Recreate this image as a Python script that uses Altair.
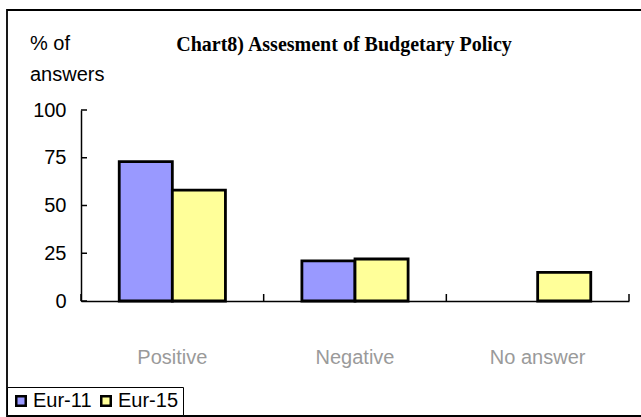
import altair as alt
import pandas as pd

categories = ["Positive", "Negative", "No answer"]
series = ["Eur-11", "Eur-15"]
eur11 = [73, 21, None]
eur15 = [58, 22, 15]
ytick_values = [0, 25, 50, 75, 100]
title_text = "Chart8) Assesment of Budgetary Policy"
ytitle_lines = ["% of", "answers"]
colors = ["#9999FF", "#FFFF99"]

rows = []
for c, a, b in zip(categories, eur11, eur15):
    if a is not None:
        rows.append({"cat": c, "series": "Eur-11", "value": a})
    if b is not None:
        rows.append({"cat": c, "series": "Eur-15", "value": b})
df = pd.DataFrame(rows)

W, H = 548, 191
FONT = "Liberation Sans"

xscale = alt.Scale(domain=categories, paddingInner=0, paddingOuter=0)
yscale = alt.Scale(domain=[0, 100], nice=False)

bars = alt.Chart(df).mark_bar(stroke="black", strokeWidth=2.8, strokeJoin="miter").encode(
    x=alt.X("cat:N", scale=xscale, sort=categories,
            axis=alt.Axis(title=None, labelAngle=0, ticks=False, domainColor="black",
                          domainWidth=1.5, labelColor="#9a9a9a", labelFont=FONT,
                          labelFontSize=20, labelPadding=56, labelBaseline="middle")),
    xOffset=alt.XOffset("series:N", scale=alt.Scale(domain=series, paddingInner=0, paddingOuter=0.72)),
    y=alt.Y("value:Q", scale=yscale,
            axis=alt.Axis(title=None, values=ytick_values, ticks=False, grid=False,
                          domainColor="black", domainWidth=1.5, labelColor="black",
                          labelFont=FONT, labelFontSize=20, labelPadding=15)),
    color=alt.Color("series:N", scale=alt.Scale(domain=series, range=colors),
                    legend=alt.Legend(title=None, orient="none", legendX=-74, legendY=277,
                                      direction="horizontal", strokeColor="black",
                                      fillColor="white", padding=4, symbolType="square",
                                      symbolSize=90, symbolStrokeColor="black",
                                      symbolStrokeWidth=2.5, labelFont=FONT,
                                      labelFontSize=20, labelColor="black",
                                      labelOffset=2, columnPadding=4)),
)

ydf = pd.DataFrame({"v": ytick_values})
yticks = alt.Chart(ydf).mark_rule(color="black", strokeWidth=1.5).encode(
    y=alt.Y("v:Q", scale=yscale), x=alt.value(0), x2=alt.value(6)
)

cdf = pd.DataFrame({"cat": categories})
xticks = alt.Chart(cdf).mark_rule(color="black", strokeWidth=1.5).encode(
    x=alt.X("cat:N", scale=xscale, sort=categories, bandPosition=0),
    y=alt.value(H), y2=alt.value(H - 7),
)
xtick_end = alt.Chart(cdf.head(1)).mark_rule(color="black", strokeWidth=1.5).encode(
    x=alt.value(W), y=alt.value(H), y2=alt.value(H - 7)
)

one = pd.DataFrame({"t": [title_text]})
title = alt.Chart(one).mark_text(font="Liberation Serif", fontWeight="bold", fontSize=20,
                                 align="center", baseline="middle", color="black").encode(
    text="t:N", x=alt.value(263), y=alt.value(-65)
)
ytitle1 = alt.Chart(pd.DataFrame({"t": [ytitle_lines[0]]})).mark_text(
    font=FONT, fontSize=20, align="left", baseline="middle", color="black").encode(
    text="t:N", x=alt.value(-51), y=alt.value(-66))
ytitle2 = alt.Chart(pd.DataFrame({"t": [ytitle_lines[1]]})).mark_text(
    font=FONT, fontSize=20, align="left", baseline="middle", color="black").encode(
    text="t:N", x=alt.value(-51), y=alt.value(-35))

frame = alt.Chart(one).mark_rect(fill=None, stroke="black", strokeWidth=1.8).encode(
    x=alt.value(-74), x2=alt.value(575), y=alt.value(-100), y2=alt.value(306)
)

chart = alt.layer(frame, bars, yticks, xticks, xtick_end, title, ytitle1, ytitle2).properties(
    width=W, height=H,
    autosize=alt.AutoSizeParams(type="none"),
    padding={"left": 81, "top": 110, "right": 12, "bottom": 116},
    background="white",
).configure_view(stroke=None)

chart.save("out.html", embed_options={"renderer": "svg", "actions": False})
